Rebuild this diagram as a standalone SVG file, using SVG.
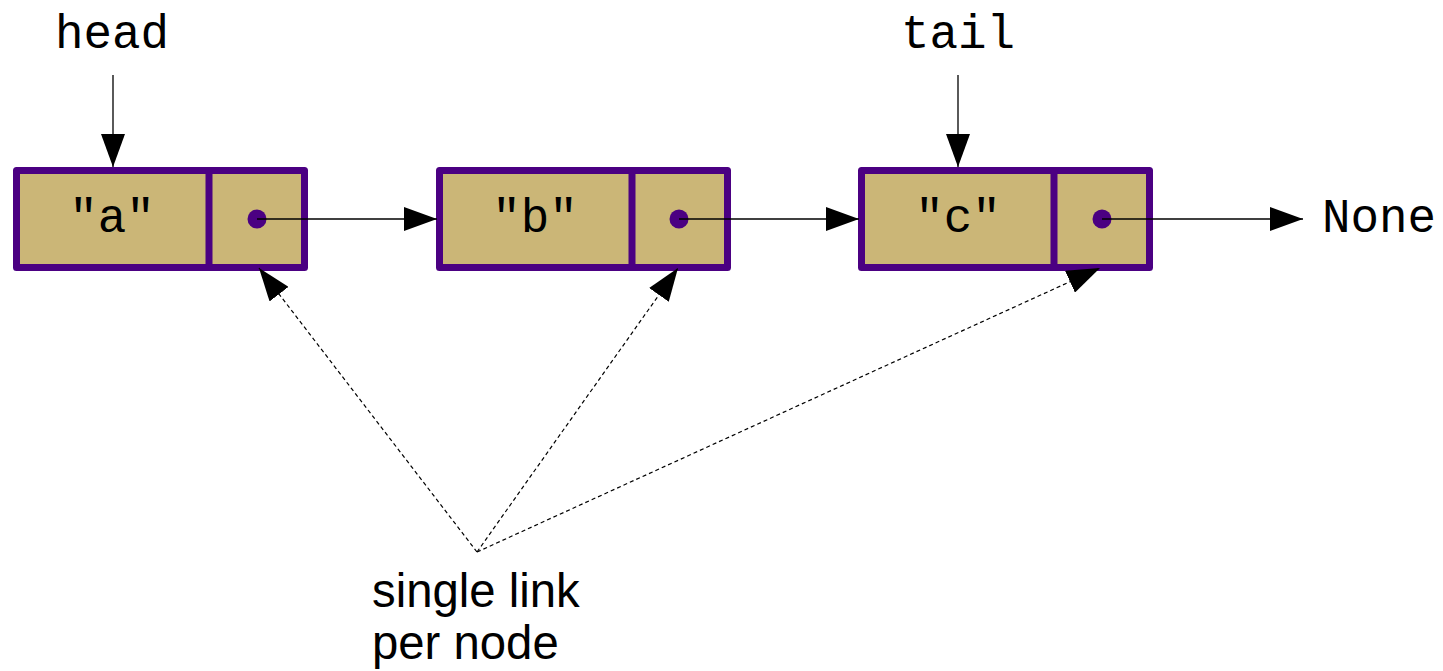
<svg xmlns="http://www.w3.org/2000/svg" width="1443" height="671" viewBox="0 0 1443 671">
<style>
.cell{fill:#cbb677;stroke:#4b0082;stroke-width:7;stroke-linejoin:round}
.dot{fill:#4b0082}
.mono{font-family:"Liberation Mono","DejaVu Sans Mono",monospace;font-size:47.5px;fill:#000}
.sans{font-family:"Liberation Sans",Arial,sans-serif;font-size:47.3px;fill:#000}
.ln{stroke:#000;stroke-width:1.3;fill:none}
.dash{stroke:#000;stroke-width:1.2;fill:none;stroke-dasharray:4,3}
</style>
<defs>
<marker id="ah" markerUnits="userSpaceOnUse" markerWidth="34" markerHeight="24" refX="33" refY="12" orient="auto">
<path d="M0,0 L33,12 L0,24 Z" fill="#000"/>
</marker>
</defs>
<g id="labels">
<text class="mono" x="112" y="48" text-anchor="middle">head</text>
<text class="mono" x="958" y="48" text-anchor="middle">tail</text>
<text class="mono" x="1322" y="232">None</text>
<text class="sans" x="372" y="607">single link</text>
<text class="sans" x="372" y="659">per node</text>
</g>
<g id="node-a">
<rect class="cell" x="16.5" y="170.5" width="288" height="97"/>
<line x1="209" y1="170" x2="209" y2="268" stroke="#4b0082" stroke-width="7"/>
<text class="mono" x="112" y="232" text-anchor="middle">"a"</text>
<circle class="dot" cx="257" cy="219" r="9.5"/>
</g>
<g id="node-b">
<rect class="cell" x="439.5" y="170.5" width="288" height="97"/>
<line x1="632" y1="170" x2="632" y2="268" stroke="#4b0082" stroke-width="7"/>
<text class="mono" x="535" y="232" text-anchor="middle">"b"</text>
<circle class="dot" cx="679" cy="219" r="9.5"/>
</g>
<g id="node-c">
<rect class="cell" x="861.5" y="170.5" width="288" height="97"/>
<line x1="1054" y1="170" x2="1054" y2="268" stroke="#4b0082" stroke-width="7"/>
<text class="mono" x="958" y="232" text-anchor="middle">"c"</text>
<circle class="dot" cx="1102" cy="219" r="9.5"/>
</g>
<g id="connectors">
<line class="ln" x1="113" y1="75" x2="113" y2="167" marker-end="url(#ah)"/>
<line class="ln" x1="958" y1="75" x2="958" y2="167" marker-end="url(#ah)"/>
<line class="ln" x1="257" y1="219" x2="437" y2="219" marker-end="url(#ah)"/>
<line class="ln" x1="679" y1="219" x2="859" y2="219" marker-end="url(#ah)"/>
<line class="ln" x1="1102" y1="219" x2="1303" y2="219" marker-end="url(#ah)"/>
<line class="dash" x1="477" y1="552" x2="259" y2="268" marker-end="url(#ah)"/>
<line class="dash" x1="477" y1="552" x2="678" y2="268" marker-end="url(#ah)"/>
<line class="dash" x1="477" y1="552" x2="1100" y2="268" marker-end="url(#ah)"/>
</g>
</svg>
